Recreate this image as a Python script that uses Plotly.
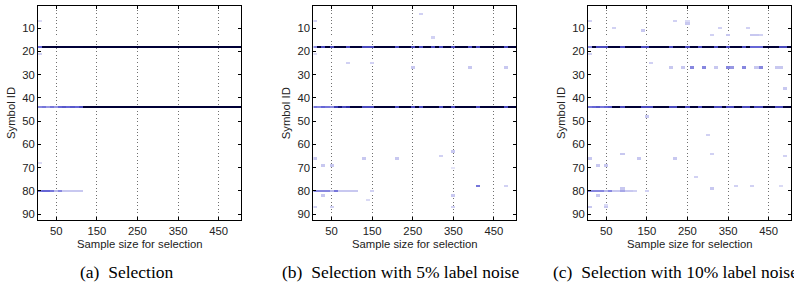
import plotly.graph_objects as go

W, H = 794, 286

# ---------------- data ----------------
sample_sizes = list(range(10, 501, 10))          # x categories (50 columns)
symbol_ids = list(range(1, 93))                   # y categories (92 rows)
x_ticks = [50, 150, 250, 350, 450]
y_ticks = [10, 20, 30, 40, 50, 60, 70, 80, 90]
captions = ["(a)  Selection", "(b)  Selection with 5% label noise", "(c)  Selection with 10% label noise"]

# Panel (a): selection frequencies, rows 18 / 44 / 80 (x = 10..500)
a_row18 = [0.6, 1, 1, 1, 1, 1, 1, 1, 1, 1, 1, 1, 1, 1, 1, 1, 1, 1, 1, 1, 1, 1, 1, 1, 1,
           1, 1, 1, 1, 1, 1, 1, 1, 1, 1, 1, 1, 1, 1, 1, 1, 1, 1, 1, 1, 1, 1, 1, 1, 1]
a_row44 = [0.5, 0.55, 0.45, 0.55, 0.45, 0.6, 0.65, 0.6, 0.65, 0.6, 0.7, 1, 1, 1, 1, 1, 1, 1, 1, 1, 1, 1, 1, 1, 1,
           1, 1, 1, 1, 1, 1, 1, 1, 1, 1, 1, 1, 1, 1, 1, 1, 1, 1, 1, 1, 1, 1, 1, 1, 1]
a_row80 = [0.55, 0.6, 0.6, 0.55, 0.35, 0.5, 0.3, 0.3, 0.3, 0.3, 0.3, 0, 0, 0, 0, 0, 0, 0, 0, 0, 0, 0, 0, 0, 0,
           0, 0, 0, 0, 0, 0, 0, 0, 0, 0, 0, 0, 0, 0, 0, 0, 0, 0, 0, 0, 0, 0, 0, 0, 0]
a_cell_x = [10, 10, 10]
a_cell_y = [7, 21, 68]
a_cell_v = [0.2, 0.25, 0.2]

# Panel (b): 5% label noise
b_row18 = [0.5, 1, 0.7, 1, 0.7, 1, 1, 1, 0.7, 1, 1, 1, 0.7, 0.7, 0.7, 1, 1, 1, 1, 1, 0.7, 1, 1, 1, 0.7,
           1, 0.7, 1, 1, 0.7, 1, 0.7, 1, 1, 0.7, 1, 1, 1, 0.7, 1, 0.7, 1, 1, 1, 1, 1, 1, 0.7, 1, 1]
b_row44 = [0.55, 0.5, 0.6, 0.55, 0.5, 0.75, 0.9, 0.7, 0.8, 1, 1, 1, 0.7, 0.7, 0.7, 1, 1, 1, 1, 1, 0.7, 1, 1, 1, 0.7,
           1, 0.7, 1, 1, 1, 1, 0.7, 1, 1, 0.7, 1, 1, 1, 1, 1, 0.7, 1, 1, 1, 1, 1, 1, 0.7, 1, 1]
b_row80 = [0.5, 0.5, 0.5, 0.5, 0.35, 0.55, 0.3, 0.3, 0.3, 0.3, 0.3, 0, 0, 0, 0.25, 0, 0, 0, 0, 0, 0, 0, 0, 0, 0,
           0, 0, 0, 0, 0, 0, 0, 0, 0, 0, 0, 0, 0, 0, 0, 0, 0, 0, 0, 0, 0, 0, 0, 0, 0]
b_cell_x = [10, 270, 300, 10, 90, 150, 250, 390, 480, 10, 130, 210, 320, 350, 30, 50, 350, 30, 140, 350, 410, 480, 10, 50, 350]
b_cell_y = [7, 4, 14, 21, 25, 25, 27, 27, 27, 66, 66, 66, 65, 63, 69, 69, 70, 82, 84, 82, 78, 78, 87, 87, 87]
b_cell_v = [0.25, 0.25, 0.25, 0.2, 0.25, 0.25, 0.3, 0.3, 0.3, 0.3, 0.3, 0.3, 0.25, 0.3, 0.3, 0.3, 0.15, 0.3,
            0.2, 0.3, 0.55, 0.25, 0.25, 0.25, 0.25]

# Panel (c): 10% label noise
c_row18 = [0.5, 1, 0.7, 0.7, 0.7, 1, 1, 1, 0.7, 1, 1, 1, 1, 0.7, 0.7, 1, 1, 1, 1, 1, 0.7, 1, 1, 1, 0.7,
           1, 1, 0.7, 1, 1, 1, 0.7, 1, 1, 0.7, 1, 1, 1, 0.7, 1, 0.6, 0.6, 0.6, 1, 1, 1, 1, 0.7, 0.7, 1]
c_row44 = [0.55, 0.6, 0.65, 0.55, 0.6, 0.65, 1, 1, 0.7, 1, 1, 1, 1, 0.7, 0.7, 0.7, 1, 1, 1, 1, 0.7, 0.7, 1, 1, 0.7,
           1, 1, 0.7, 1, 1, 1, 0.7, 0.7, 1, 0.7, 0.7, 1, 1, 0.7, 0.7, 1, 0.7, 0.7, 1, 1, 1, 0.7, 0.7, 1, 1]
c_row27 = [0, 0, 0, 0, 0, 0, 0, 0, 0, 0, 0, 0, 0, 0, 0, 0, 0, 0, 0, 0, 0.3, 0, 0, 0.3, 0,
           0.5, 0, 0, 0.5, 0, 0, 0.3, 0, 0, 0.5, 0.45, 0, 0, 0.5, 0, 0, 0.3, 0.5, 0, 0, 0, 0.3, 0.3, 0, 0]
c_row80 = [0.5, 0.5, 0.5, 0.5, 0.35, 0.5, 0.3, 0.3, 0.4, 0.3, 0.3, 0.25, 0, 0, 0.25, 0, 0, 0, 0, 0, 0, 0, 0, 0, 0,
           0, 0, 0, 0, 0, 0, 0, 0, 0, 0, 0, 0, 0, 0, 0, 0, 0, 0, 0, 0, 0, 0, 0, 0, 0]
c_cell_x = [10, 70, 140, 220, 250, 250, 310, 330, 350, 400, 410, 420, 430, 10, 160, 490, 150, 300, 90, 310,
            10, 130, 220, 490, 30, 50, 270, 310, 370, 410, 480, 30, 10, 50, 50, 90]
c_cell_y = [7, 10, 11, 7, 8, 7, 13, 10, 13, 10, 13, 13, 13, 21, 25, 36, 48, 56, 64, 64,
            66, 66, 66, 65, 69, 69, 74, 79, 78, 78, 78, 82, 87, 87, 86, 79]
c_cell_v = [0.25, 0.25, 0.3, 0.25, 0.3, 0.2, 0.25, 0.25, 0.3, 0.25, 0.3, 0.3, 0.25, 0.25, 0.25, 0.3, 0.3, 0.25,
            0.3, 0.25, 0.3, 0.3, 0.3, 0.25, 0.3, 0.3, 0.25, 0.3, 0.25, 0.25, 0.2, 0.3, 0.3, 0.3, 0.2, 0.3]

panels = [
    {"rows": {18: a_row18, 44: a_row44, 80: a_row80}, "cx": a_cell_x, "cy": a_cell_y, "cv": a_cell_v},
    {"rows": {18: b_row18, 44: b_row44, 80: b_row80}, "cx": b_cell_x, "cy": b_cell_y, "cv": b_cell_v},
    {"rows": {18: c_row18, 44: c_row44, 27: c_row27, 80: c_row80}, "cx": c_cell_x, "cy": c_cell_y, "cv": c_cell_v},
]

# ---------------- layout geometry (pixels) ----------------
x_left = [38, 313.3, 588]
plot_w = 203
y_top, y_bot = 6, 220
cap_left = [78, 280, 551]

colorscale = [[0, "#ffffff"], [0.3, "#c8c8f0"], [0.6, "#6666d6"], [0.85, "#20209a"], [1, "#000036"]]


def build_z(p):
    z = [[None] * len(sample_sizes) for _ in symbol_ids]
    for r, vals in p["rows"].items():
        for j, v in enumerate(vals):
            if v > 0:
                z[symbol_ids.index(r)][j] = v
    for x, y, v in zip(p["cx"], p["cy"], p["cv"]):
        z[symbol_ids.index(y)][sample_sizes.index(x)] = v
    return z


fig = go.Figure()
layout = dict(width=W, height=H, margin=dict(l=0, r=0, t=0, b=0),
              paper_bgcolor="white", plot_bgcolor="white", showlegend=False,
              font=dict(family="Liberation Sans, Arial, sans-serif", size=11, color="#222"))
annotations = []
for i, p in enumerate(panels):
    sfx = "" if i == 0 else str(i + 1)
    fig.add_trace(go.Heatmap(x=sample_sizes, y=symbol_ids, z=build_z(p), zmin=0, zmax=1,
                             colorscale=colorscale, showscale=False, hoverinfo="skip",
                             xaxis="x" + sfx, yaxis="y" + sfx))
    d0 = x_left[i] / W
    d1 = (x_left[i] + plot_w) / W
    layout["xaxis" + sfx] = dict(domain=[d0, d1], range=[5, 505], tickvals=x_ticks,
                                 ticks="inside", ticklen=3, tickcolor="black",
                                 showline=True, linecolor="black", linewidth=1, mirror="ticks",
                                 showgrid=True, gridcolor="#707070", griddash="1px,2.5px", gridwidth=1,
                                 zeroline=False, anchor="y" + sfx, tickfont=dict(size=11.3))
    layout["yaxis" + sfx] = dict(domain=[(H - y_bot) / H, (H - y_top) / H], range=[92.5, 0.5],
                                 tickvals=y_ticks, ticks="inside", ticklen=3, tickcolor="black",
                                 showline=True, linecolor="black", linewidth=1, mirror="ticks",
                                 showgrid=False, zeroline=False, anchor="x" + sfx, tickfont=dict(size=11.3))
    annotations.append(dict(text="Sample size for selection", xref="paper", yref="paper",
                            x=(x_left[i] + plot_w / 2) / W, y=(H - 244) / H, showarrow=False,
                            xanchor="center", yanchor="middle", font=dict(size=11.3)))
    annotations.append(dict(text="Symbol ID", xref="paper", yref="paper", textangle=-90,
                            x=(x_left[i] - 27) / W, y=(H - 113) / H, showarrow=False,
                            xanchor="center", yanchor="middle", font=dict(size=11.3)))
    annotations.append(dict(text=captions[i], xref="paper", yref="paper",
                            x=cap_left[i] / W, y=(H - 272) / H, showarrow=False,
                            xanchor="left", yanchor="middle",
                            font=dict(family="Liberation Serif, Times New Roman, serif", size=17.5, color="black")))
layout["annotations"] = annotations
fig.update_layout(**layout)
fig.write_html("out.html")
